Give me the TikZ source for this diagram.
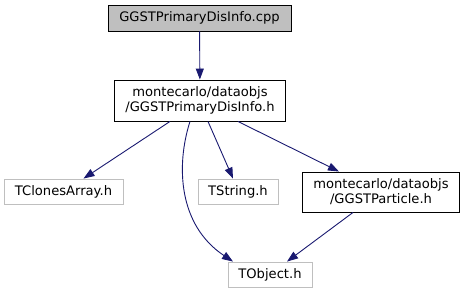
\documentclass[tikz,border=0pt]{standalone}
\usepackage{fontspec}
\setmainfont{DejaVu Sans}
\usepackage{tikz}
\usetikzlibrary{arrows.meta,positioning}

\definecolor{edgeblue}{HTML}{191970}
\definecolor{graybox}{HTML}{BFBFBF}

\begin{document}
\begin{tikzpicture}[
    x=1pt, y=-1pt,
    font=\fontsize{13.1}{15}\selectfont,
    file/.style={draw, line width=0.9pt, inner sep=2pt, align=center},
    cur/.style={file, fill=graybox},
    ext/.style={file, draw=graybox},
    edge/.style={draw=edgeblue, line width=0.9pt,
                 -{Triangle[length=11pt, width=8pt, fill=edgeblue]}},
    ]
\useasboundingbox (0,0) rectangle (464,293);

% ---- source file ----
\node[cur, minimum width=183pt, minimum height=26pt] (cpp) at (199.5,18) {GGSTPrimaryDisInfo.cpp};

% ---- headers ----
\node[file, minimum width=171pt, minimum height=41pt] (info) at (200,100.5)
      {montecarlo/dataobjs\\/GGSTPrimaryDisInfo.h};
\node[ext, minimum width=119pt, minimum height=25pt] (clones) at (63.5,191.5) {TClonesArray.h};
\node[ext, minimum width=80pt, minimum height=25pt] (tstring) at (238,191.5) {TString.h};
\node[file, minimum width=157pt, minimum height=40pt] (particle) at (381,192)
      {montecarlo/dataobjs\\/GGSTParticle.h};
\node[ext, minimum width=84pt, minimum height=25pt] (tobject) at (270,274.5) {TObject.h};

% ---- edges ----
\draw[edge] (cpp) -- (info);
\draw[edge] ([xshift=-30pt]info.south) -- ([xshift=20pt]clones.north);
\draw[edge] ([xshift=-10pt]info.south) .. controls (176,165) and (178,225) .. ([xshift=-37pt]tobject.north);
\draw[edge] ([xshift=8pt]info.south) -- ([xshift=-5pt]tstring.north);
\draw[edge] ([xshift=38pt]info.south) -- ([xshift=-42pt]particle.north);
\draw[edge] ([xshift=-28pt]particle.south) -- ([xshift=17pt]tobject.north);
\end{tikzpicture}
\end{document}
